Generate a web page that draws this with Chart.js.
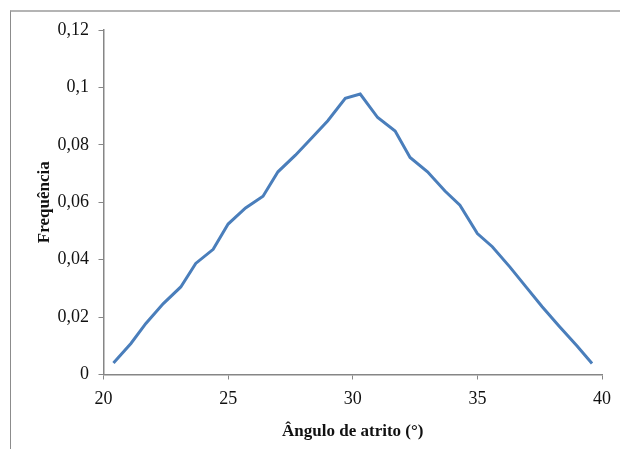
<!DOCTYPE html>
<html>
<head>
<meta charset="utf-8">
<script src="https://cdn.jsdelivr.net/npm/chart.js@4/dist/chart.umd.min.js"></script>
<style>
  html, body { margin: 0; padding: 0; background: #fff; }
  #wrap { position: relative; width: 620px; height: 449px; overflow: hidden; }
  #frame { position: absolute; left: 10px; top: 10px; width: 700px; height: 600px;
           border-left: 1px solid #8c8c8c; border-top: 2px solid #b4b4b4; }
  canvas { position: absolute; left: 0; top: 0; }
</style>
</head>
<body>
<div id="wrap">
  <div id="frame"></div>
  <canvas id="c" width="620" height="449"></canvas>
</div>
<script>
// Friction angle (degrees) and relative frequency
const angles = [20.4, 21.1, 21.7, 22.4, 23.1, 23.7, 24.4, 25.0, 25.7, 26.4,
                27.0, 27.7, 28.4, 29.0, 29.7, 30.3, 31.0, 31.7, 32.3, 33.0,
                33.7, 34.3, 35.0, 35.6, 36.3, 37.0, 37.6, 38.3, 39.0, 39.6];
const frequencies = [0.0040, 0.0108, 0.0178, 0.0247, 0.0305, 0.0387, 0.0436, 0.0524, 0.0580, 0.0621,
                     0.0706, 0.0764, 0.0828, 0.0884, 0.0962, 0.0977, 0.0895, 0.0848, 0.0756, 0.0706,
                     0.0639, 0.0590, 0.0491, 0.0445, 0.0375, 0.0300, 0.0236, 0.0166, 0.0099, 0.0038];
const xTicks = [20, 25, 30, 35, 40];
const yTicks = [0, 0.02, 0.04, 0.06, 0.08, 0.1, 0.12];

const axisGray = '#868686';
const serif = "'Liberation Serif', 'Times New Roman', serif";

const fmt = v => String(Number(v.toFixed(2))).replace('.', ',');

new Chart(document.getElementById('c'), {
  type: 'line',
  data: {
    datasets: [{
      data: angles.map((a, i) => ({ x: a, y: frequencies[i] })),
      borderColor: '#4A7EBB',
      borderWidth: 3,
      pointRadius: 0,
      tension: 0,
      fill: false
    }]
  },
  options: {
    responsive: false,
    animation: false,
    layout: { padding: { left: 0, top: 30, right: 15.5, bottom: 0 } },
    plugins: { legend: { display: false }, tooltip: { enabled: false } },
    scales: {
      x: {
        type: 'linear',
        min: xTicks[0],
        max: xTicks[xTicks.length - 1],
        afterBuildTicks: s => { s.ticks = xTicks.map(v => ({ value: v })); },
        afterFit: s => { s.height = 74.5; },
        ticks: { color: '#111', padding: 9, font: { family: serif, size: 18 }, maxRotation: 0 },
        grid: { drawOnChartArea: false, drawTicks: true, tickLength: 5, color: axisGray, lineWidth: 1 },
        border: { display: true, color: axisGray, width: 1.5 },
        title: {
          display: true,
          text: 'Ângulo de atrito (°)',
          color: '#111',
          font: { family: serif, size: 17, weight: 'bold' },
          padding: { top: 0, bottom: 7 }
        }
      },
      y: {
        min: yTicks[0],
        max: yTicks[yTicks.length - 1],
        afterBuildTicks: s => { s.ticks = yTicks.map(v => ({ value: v })); },
        afterFit: s => { s.width = 103.5; },
        ticks: { color: '#111', padding: 9.5, font: { family: serif, size: 18 }, callback: v => fmt(v) },
        grid: { drawOnChartArea: false, drawTicks: true, tickLength: 5, color: axisGray, lineWidth: 1 },
        border: { display: true, color: axisGray, width: 1.5 },
        title: {
          display: true,
          text: 'Frequência',
          color: '#111',
          font: { family: serif, size: 17, weight: 'bold' },
          padding: { top: 34, bottom: 0 }
        }
      }
    }
  }
});
</script>
</body>
</html>
